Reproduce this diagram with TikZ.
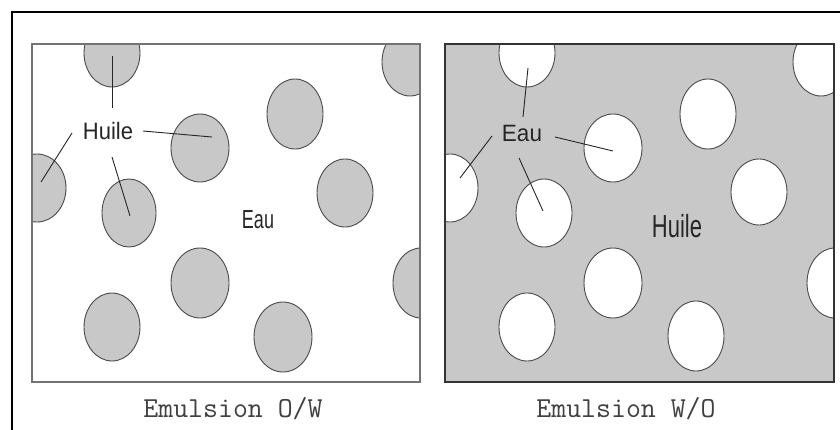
\documentclass[tikz,border=0pt]{standalone}
\usepackage{fontspec}
\setmainfont{Liberation Sans}
\definecolor{dropgray}{HTML}{C8C8C8}
\definecolor{edgegray}{HTML}{4A4A4A}
\begin{document}
\begin{tikzpicture}[x=1pt,y=-1pt,
  frameline/.style={line width=1.5pt,black},
  panelL/.style={draw=gray!90!black,line width=1.3pt,fill=white},
  panelR/.style={draw=black!80,line width=1.3pt,fill=dropgray},
  oil/.style={draw=edgegray,line width=0.9pt,fill=dropgray},
  water/.style={draw=edgegray,line width=0.9pt,fill=white},
  pointer/.style={draw=black!85,line width=0.9pt},
  lbl/.style={inner sep=0pt,anchor=base,text=black!85},
  captxt/.style={inner sep=0pt,anchor=base,text=black!75,font=\ttfamily\fontsize{29}{32}\selectfont}]
\useasboundingbox (0,0) rectangle (840,430);
% outer frame (top and left visible)
\draw[frameline] (840,12) -- (12,12) -- (12,430);
% ---------------- left panel: O/W ----------------
\path[panelL] (32,44) rectangle (420,382);
\begin{scope}
\clip (32,44) rectangle (420,382);
\foreach \cx/\cy/\rx/\ry in {112/53/28/34, 410/62/28/34, 295/114/28/35, 200/148/29/34,
  37/188/29/34, 129/213/27/34, 345/193/28/34, 200/283/29/35, 112/327/28/34,
  283/337/29/35, 421/283/28/35}
  \draw[oil] (\cx,\cy) ellipse [x radius=\rx, y radius=\ry];
\end{scope}
\draw[draw=gray!90!black,line width=1.3pt] (32,44) rectangle (420,382);
\node[lbl] (huileL) at (108,140) {\scalebox{1}[1.08]{\fontsize{22}{26}\selectfont Huile}};
\node[lbl] (eauL) at (258,229) {\scalebox{1}[1.45]{\fontsize{18}{22}\selectfont Eau}};
\coordinate (l1a) at (112,56); \coordinate (l1b) at (112,108);
\coordinate (l2a) at (72,133); \coordinate (l2b) at (41,182);
\coordinate (l3a) at (143,131); \coordinate (l3b) at (212,137);
\coordinate (l4a) at (112,157); \coordinate (l4b) at (130,216);
\draw[pointer] (l1a) -- (l1b);
\draw[pointer] (l2a) -- (l2b);
\draw[pointer] (l3a) -- (l3b);
\draw[pointer] (l4a) -- (l4b);
\node[captxt] (capL) at (233,417) {Emulsion O/W};
% ---------------- right panel: W/O ----------------
\path[panelR] (445,44) rectangle (834,382);
\begin{scope}
\clip (445,44) rectangle (834,382);
\foreach \cx/\cy/\rx/\ry in {527/53/28/34, 821/62/28/34, 708/114/28/35, 613/148/29/34,
  450/188/28/34, 544/213/28/34, 759/192/28/33, 613/283/29/35, 527/327/28/34,
  696/336/28/35, 835/283/28/35}
  \draw[water] (\cx,\cy) ellipse [x radius=\rx, y radius=\ry];
\end{scope}
\draw[draw=black!80,line width=1.3pt] (445,44) rectangle (834,382);
\node[lbl] (eauR) at (522,142) {\scalebox{1}[1.05]{\fontsize{22.5}{26}\selectfont Eau}};
\node[lbl] (huileR) at (677,238) {\scalebox{1}[1.45]{\fontsize{22}{26}\selectfont Huile}};
\coordinate (r1a) at (528,68); \coordinate (r1b) at (523,117);
\coordinate (r2a) at (492,136); \coordinate (r2b) at (460,178);
\coordinate (r3a) at (555,137); \coordinate (r3b) at (613,151);
\coordinate (r4a) at (519,158); \coordinate (r4b) at (543,211);
\draw[pointer] (r1a) -- (r1b);
\draw[pointer] (r2a) -- (r2b);
\draw[pointer] (r3a) -- (r3b);
\draw[pointer] (r4a) -- (r4b);
\node[captxt] (capR) at (626,417) {Emulsion W/O};
\end{tikzpicture}
\end{document}
